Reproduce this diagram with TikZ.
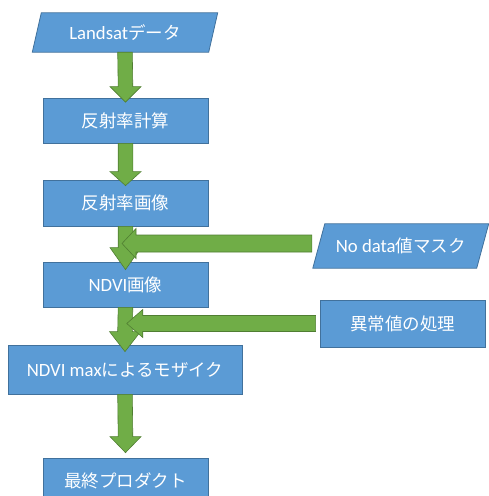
\documentclass[tikz,border=0pt]{standalone}
\usepackage{fontspec}
\setmainfont{Carlito}[Scale=1.07]
\newfontfamily\jp{Noto Sans CJK JP}
\usetikzlibrary{calc,backgrounds}
\definecolor{boxblue}{HTML}{5B9BD5}
\definecolor{boxline}{HTML}{41719C}
\definecolor{arrgreen}{HTML}{70AD47}
\definecolor{arrline}{HTML}{507E32}
\tikzset{
  box/.style={rectangle, fill=boxblue, draw=boxline, line width=0.8pt, text=white,
    font=\fontsize{17.5}{20}\selectfont, inner sep=0pt},
  parabox/.style={rectangle, text=white, font=\fontsize{17.5}{20}\selectfont, inner sep=0pt},
  parafill/.style={fill=boxblue, draw=boxline, line width=0.8pt},
  blockarrow/.style={fill=arrgreen, draw=arrline, line width=0.6pt, line join=miter}
}
% vertical block arrow: #1 source node, #2 target node, #3 tip depth into target, #4 head length
\newcommand\varrow[4]{%
  \filldraw[blockarrow] ($(#1.south)+(-7.3,0)$) -- ($(#1.south)+(7.3,0)$)
    -- ($(#2.north)+(7.3,{#3-#4})$) -- ($(#2.north)+(15.5,{#3-#4})$)
    -- ($(#2.north)+(0,#3)$)
    -- ($(#2.north)+(-15.5,{#3-#4})$) -- ($(#2.north)+(-7.3,{#3-#4})$) -- cycle;}
% horizontal block arrow: #1 tip coordinate, #2 source node, #3 tail offset, #4 shaft half, #5 head half, #6 head length
\newcommand\harrow[6]{%
  \filldraw[blockarrow] ($(#1 -| #2.west)+(#3,-#4)$) -- ($(#1)+(#6,-#4)$)
    -- ($(#1)+(#6,-#5)$) -- (#1) -- ($(#1)+(#6,#5)$)
    -- ($(#1)+(#6,#4)$) -- ($(#1 -| #2.west)+(#3,#4)$) -- cycle;}
\begin{document}
\begin{tikzpicture}[x=1pt,y=-1pt]
\useasboundingbox (0,0) rectangle (488,496);
% nodes
\node[parabox, minimum width=176pt, minimum height=39pt] (landsat) at (125,32.5) {Landsat{\jp データ}};
\node[box, minimum width=165pt, minimum height=45pt] (calc) at (125.5,120.5) {\jp 反射率計算};
\node[box, minimum width=165pt, minimum height=46pt] (refl) at (125.5,203) {\jp 反射率画像};
\node[box, minimum width=165pt, minimum height=45pt] (ndvi) at (125.5,284.5) {NDVI{\jp 画像}};
\node[box, minimum width=234pt, minimum height=49pt] (mosaic) at (125,369.5) {NDVI max{\jp によるモザイク}};
\node[box, minimum width=165pt, minimum height=45pt] (final) at (125.5,480.5) {\jp 最終プロダクト};
\node[parabox, minimum width=163.5pt, minimum height=44pt] (mask) at (400.75,246) {No data{\jp 値マスク}};
\node[box, minimum width=165pt, minimum height=47pt] (anom) at (402.5,323.5) {\jp 異常値の処理};
% parallelogram backgrounds
\begin{pgfonlayer}{background}
\filldraw[parafill] ($(landsat.north west)+(4.5,0)$) -- ($(landsat.north east)+(4.5,0)$)
  -- ($(landsat.south east)+(-4.5,0)$) -- ($(landsat.south west)+(-4.5,0)$) -- cycle;
\filldraw[parafill] ($(mask.north west)+(6,0)$) -- ($(mask.north east)+(6,0)$)
  -- ($(mask.south east)+(-6,0)$) -- ($(mask.south west)+(-6,0)$) -- cycle;
\end{pgfonlayer}
% vertical arrows
\varrow{landsat}{calc}{4.5}{15.5}
\varrow{calc}{refl}{6}{14}
\varrow{refl}{ndvi}{8}{22}
\varrow{ndvi}{mosaic}{7}{20}
\varrow{mosaic}{final}{-5}{16}
% junction tips
\coordinate (j1) at ($($(refl.south)!0.5!(ndvi.north)$)+(-3.5,-0.5)$);
\coordinate (j2) at ($($(ndvi.south)!0.5!(mosaic.north)$)+(1.5,-2.5)$);
% horizontal arrows
\harrow{j1}{mask}{-7}{8.5}{15}{14}
\harrow{j2}{anom}{-4}{8}{14}{16}
\end{tikzpicture}
\end{document}
